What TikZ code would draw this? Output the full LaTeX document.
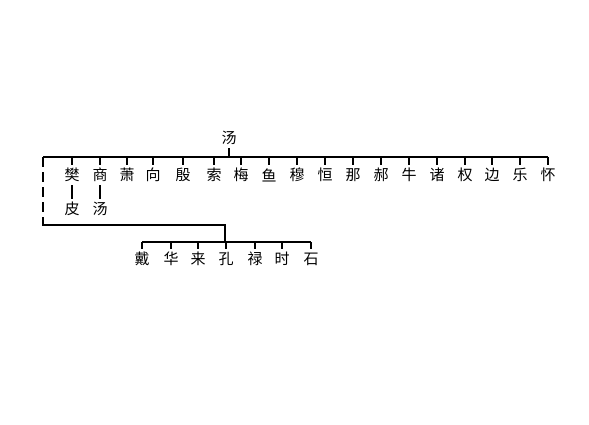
\documentclass[tikz,border=0pt]{standalone}
\usepackage{fontspec}
\newfontfamily\cjk{Noto Sans CJK SC}
\usepackage{tikz}

\tikzset{
  hanzi/.style={font=\cjk\fontsize{15}{15}\selectfont, inner sep=3pt},
  bar/.style={line width=2.6pt},
  tick/.style={line width=2pt}
}

\begin{document}
\begin{tikzpicture}[x=1pt,y=-1pt]
\useasboundingbox (0,0) rectangle (589,425);

\node[hanzi] (root) at (229,138) {汤};
\draw[tick] (root.south) -- (229,157);

\draw[bar] (43,157) -- (548,157);

\node[hanzi] (fan) at (72,175) {樊};
\node[hanzi] (shang) at (100,175) {商};
\node[hanzi] (xiao) at (127,175) {萧};
\node[hanzi] (xiang) at (153,175) {向};
\node[hanzi] (yin) at (183,175) {殷};
\node[hanzi] (suo) at (214,175) {索};
\node[hanzi] (mei) at (241,175) {梅};
\node[hanzi] (yu) at (269,175) {鱼};
\node[hanzi] (mu) at (297,175) {穆};
\node[hanzi] (heng) at (325,175) {恒};
\node[hanzi] (na) at (353,175) {那};
\node[hanzi] (hao) at (381,175) {郝};
\node[hanzi] (niu) at (409,175) {牛};
\node[hanzi] (zhu) at (437,175) {诸};
\node[hanzi] (quan) at (465,175) {权};
\node[hanzi] (bian) at (492,175) {边};
\node[hanzi] (le) at (520,175) {乐};
\node[hanzi] (huai) at (548,175) {怀};

\draw[tick] (72,157) -- (fan.north);
\draw[tick] (100,157) -- (shang.north);
\draw[tick] (127,157) -- (xiao.north);
\draw[tick] (153,157) -- (xiang.north);
\draw[tick] (183,157) -- (yin.north);
\draw[tick] (214,157) -- (suo.north);
\draw[tick] (241,157) -- (mei.north);
\draw[tick] (269,157) -- (yu.north);
\draw[tick] (297,157) -- (mu.north);
\draw[tick] (325,157) -- (heng.north);
\draw[tick] (353,157) -- (na.north);
\draw[tick] (381,157) -- (hao.north);
\draw[tick] (409,157) -- (niu.north);
\draw[tick] (437,157) -- (zhu.north);
\draw[tick] (465,157) -- (quan.north);
\draw[tick] (492,157) -- (bian.north);
\draw[tick] (520,157) -- (le.north);
\draw[tick] (548,157) -- (huai.north);

\node[hanzi] (pi) at (72,209) {皮};
\node[hanzi] (tang) at (100,209) {汤};
\draw[tick] (fan.south) -- (pi.north);
\draw[tick] (shang.south) -- (tang.north);

\draw[bar, dash pattern=on 10pt off 5pt] (43,157) -- (43,225);
\draw[bar] (43,218) -- (43,225) -- (225,225) -- (225,242);

\draw[bar] (142,242) -- (311,242);

\node[hanzi] (dai) at (142,259) {戴};
\node[hanzi] (hua) at (171,259) {华};
\node[hanzi] (lai) at (198,259) {来};
\node[hanzi] (kong) at (226,259) {孔};
\node[hanzi] (lu) at (255,259) {禄};
\node[hanzi] (shi) at (282,259) {时};
\node[hanzi] (dan) at (311,259) {石};

\draw[tick] (142,242) -- (dai.north);
\draw[tick] (171,242) -- (hua.north);
\draw[tick] (198,242) -- (lai.north);
\draw[tick] (226,242) -- (kong.north);
\draw[tick] (255,242) -- (lu.north);
\draw[tick] (282,242) -- (shi.north);
\draw[tick] (311,242) -- (dan.north);
\end{tikzpicture}
\end{document}
